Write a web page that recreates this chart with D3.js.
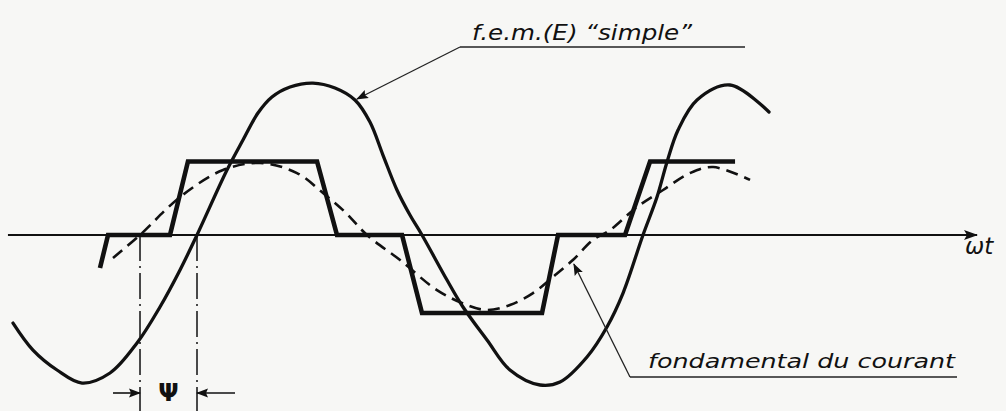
<!DOCTYPE html>
<html>
<head>
<meta charset="utf-8">
<script src="https://cdn.jsdelivr.net/npm/d3@7"></script>
<style>
  html, body { margin: 0; padding: 0; background: #f7f7f5; }
  svg { display: block; }
  text { font-family: "DejaVu Sans", sans-serif; fill: #111; }
</style>
</head>
<body>
<svg id="chart" width="1006" height="411"></svg>
<script>
// ωt in degrees, amplitude relative to the e.m.f. peak

// e.m.f. (E) "simple" — sinusoidal phase voltage
const emfAngle = [-148.5, -132.4, -113, -92.8, -70.2, -48.4, -29.9, -13.7, 0, 24.2, 37.1, 49.2, 60.5, 75.1, 93.6, 111.4, 127.5, 139.6, 150.1, 161.4, 171.9, 181.6, 201.8, 214.7, 234.1, 252.6, 276.9, 293, 314.8, 330.9, 343.9, 360, 371.3, 379.4, 388.3, 403.6, 430.2, 461.7];
const emfValue = [-0.587, -0.767, -0.9, -0.987, -0.92, -0.72, -0.48, -0.233, 0, 0.433, 0.633, 0.813, 0.92, 0.987, 1.013, 0.98, 0.9, 0.753, 0.533, 0.3, 0.133, 0, -0.3, -0.48, -0.7, -0.9, -1, -0.98, -0.813, -0.613, -0.387, 0, 0.253, 0.487, 0.7, 0.9, 1, 0.82];

// line current — trapezoidal block wave
const currentAngle = [-78.3, -71.8, -21.8, -7.3, 96.9, 113, 165.5, 181.6, 278.5, 291.4, 345.5, 365.7, 434.3];
const currentValue = [-0.22, 0, 0, 0.49, 0.49, 0, 0, -0.52, -0.52, 0, 0, 0.49, 0.49];

// fondamental du courant — first harmonic of the current
const fundAngle = [-67.8, -46, -13.7, 21, 50.9, 80.7, 101.7, 119.5, 137.2, 163.9, 193.7, 217.9, 234.1, 252.6, 271.2, 287.3, 303.4, 319.6, 333.4, 355.2, 376.2, 398, 416.6, 446.4];
const fundValue = [-0.153, 0, 0.253, 0.433, 0.48, 0.413, 0.28, 0.153, 0, -0.167, -0.367, -0.467, -0.5, -0.467, -0.387, -0.28, -0.167, -0.033, 0.033, 0.187, 0.3, 0.413, 0.453, 0.367];

// extent of the ωt axis and the phase shift ψ
const axisRange = [-152.6, 629.6];
const psiBounds = [-46, 0];

// label texts
const emfLabel = "f.e.m.(E)  \u201Csimple\u201D";
const fundLabel = "fondamental du courant";
const axisLabel = "\u03C9t";
const psiLabel = "\u03A8";

const svg = d3.select("#chart");

const x = d3.scaleLinear().domain([0, 360]).range([197, 643]);
const y = d3.scaleLinear().domain([-1, 1]).range([385, 85]);

const zip = (a, b) => a.map((d, i) => [d, b[i]]);
const emf = zip(emfAngle, emfValue);
const current = zip(currentAngle, currentValue);
const fund = zip(fundAngle, fundValue);

// arrowheads
const defs = svg.append("defs");
defs.append("marker")
  .attr("id", "head-big")
  .attr("viewBox", "0 -6 14 12")
  .attr("refX", 13).attr("refY", 0)
  .attr("markerUnits", "userSpaceOnUse")
  .attr("markerWidth", 14).attr("markerHeight", 12)
  .attr("orient", "auto")
  .append("path").attr("d", "M0,-5L14,0L0,5L3,0Z").attr("fill", "#111");
defs.append("marker")
  .attr("id", "head-small")
  .attr("viewBox", "0 -5 12 10")
  .attr("refX", 11).attr("refY", 0)
  .attr("markerUnits", "userSpaceOnUse")
  .attr("markerWidth", 12).attr("markerHeight", 10)
  .attr("orient", "auto")
  .append("path").attr("d", "M0,-4.5L12,0L0,4.5L2,0Z").attr("fill", "#111");

// ωt axis
svg.append("line")
  .attr("x1", x(axisRange[0])).attr("x2", x(axisRange[1]))
  .attr("y1", y(0)).attr("y2", y(0))
  .attr("stroke", "#111").attr("stroke-width", 1.8)
  .attr("marker-end", "url(#head-big)");
svg.append("text")
  .attr("x", x(axisRange[1]) - 12).attr("y", y(0) + 19)
  .attr("font-size", 23).attr("font-style", "italic")
  .text(axisLabel);

// current block wave
svg.append("path")
  .datum(current)
  .attr("fill", "none").attr("stroke", "#111").attr("stroke-width", 4.6)
  .attr("stroke-linejoin", "miter")
  .attr("d", d3.line().x(d => x(d[0])).y(d => y(d[1])));

// fundamental of the current (dashed)
svg.append("path")
  .datum(fund)
  .attr("fill", "none").attr("stroke", "#111").attr("stroke-width", 2.6)
  .attr("stroke-dasharray", "12,7")
  .attr("d", d3.line().curve(d3.curveCatmullRom.alpha(0.5)).x(d => x(d[0])).y(d => y(d[1])));

// e.m.f. sine
svg.append("path")
  .datum(emf)
  .attr("fill", "none").attr("stroke", "#111").attr("stroke-width", 3.3)
  .attr("stroke-linecap", "round")
  .attr("d", d3.line().curve(d3.curveCatmullRom.alpha(0.5)).x(d => x(d[0])).y(d => y(d[1])));

// ψ : dash-dot markers and dimension arrows
const psiY = 393;
svg.selectAll("line.psi")
  .data(psiBounds)
  .join("line").attr("class", "psi")
  .attr("x1", d => x(d)).attr("x2", d => x(d))
  .attr("y1", y(0)).attr("y2", 411)
  .attr("stroke", "#111").attr("stroke-width", 1.5)
  .attr("stroke-dasharray", "26,5,2,5");
svg.append("line")
  .attr("x1", x(psiBounds[0]) - 27).attr("x2", x(psiBounds[0]))
  .attr("y1", psiY).attr("y2", psiY)
  .attr("stroke", "#111").attr("stroke-width", 1.6)
  .attr("marker-end", "url(#head-small)");
svg.append("line")
  .attr("x1", x(psiBounds[1]) + 38).attr("x2", x(psiBounds[1]))
  .attr("y1", psiY).attr("y2", psiY)
  .attr("stroke", "#111").attr("stroke-width", 1.6)
  .attr("marker-end", "url(#head-small)");
svg.append("text")
  .attr("x", (x(psiBounds[0]) + x(psiBounds[1])) / 2).attr("y", 401)
  .attr("text-anchor", "middle")
  .attr("font-size", 24).attr("font-weight", "bold")
  .text(psiLabel);

// e.m.f. label with leader
const emfTip = emf[16];
svg.append("line")
  .attr("x1", 460).attr("x2", 745).attr("y1", 47).attr("y2", 47)
  .attr("stroke", "#222").attr("stroke-width", 1.3);
svg.append("line")
  .attr("x1", 460).attr("y1", 47)
  .attr("x2", x(emfTip[0]) + 2).attr("y2", y(emfTip[1]) - 1)
  .attr("stroke", "#222").attr("stroke-width", 1.3)
  .attr("marker-end", "url(#head-small)");
svg.append("text")
  .attr("x", 472).attr("y", 40)
  .attr("font-size", 21).attr("font-style", "italic")
  .attr("textLength", 220).attr("lengthAdjust", "spacingAndGlyphs")
  .text(emfLabel);

// fundamental label with leader
const fundTip = fund[16];
svg.append("line")
  .attr("x1", 630).attr("x2", 957).attr("y1", 377).attr("y2", 377)
  .attr("stroke", "#222").attr("stroke-width", 1.3);
svg.append("line")
  .attr("x1", 630).attr("y1", 377)
  .attr("x2", x(fundTip[0]) + 1).attr("y2", y(fundTip[1]) + 4)
  .attr("stroke", "#222").attr("stroke-width", 1.3)
  .attr("marker-end", "url(#head-small)");
svg.append("text")
  .attr("x", 648).attr("y", 368)
  .attr("font-size", 20).attr("font-style", "italic")
  .attr("textLength", 307).attr("lengthAdjust", "spacingAndGlyphs")
  .text(fundLabel);
</script>
</body>
</html>
